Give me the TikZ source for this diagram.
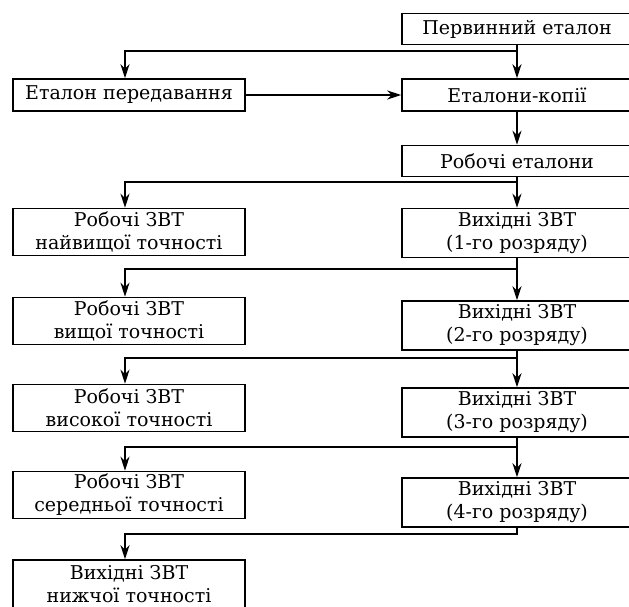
\documentclass[tikz,border=0pt]{standalone}
\usepackage{fontspec}
\setmainfont{DejaVu Serif}
\usetikzlibrary{arrows.meta,calc}
\begin{document}
\begin{tikzpicture}[x=1pt,y=-1pt,
  box/.style={draw, line width=1.5pt, inner sep=0pt, align=center, font=\fontsize{19}{23}\selectfont},
  lbox/.style={box, minimum width=232pt},
  rbox/.style={box, minimum width=230pt},
  one/.style={minimum height=31pt},
  ltwo/.style={minimum height=47pt},
  rtwo/.style={minimum height=49pt},
  arw/.style={line width=1.4pt, -{Stealth[length=14pt,width=9pt,inset=4.5pt]}}]
\useasboundingbox (0,0) rectangle (629,606);
\clip (0,0) rectangle (629,606);
\node[rbox, one] (p) at (517,29) {Первинний еталон};
\node[lbox, one, minimum height=32pt] (t) at (129,95) {Еталон передавання};
\node[rbox, one, minimum height=32pt] (k) at (517,95) {Еталони-копії};
\node[rbox, one] (re) at (517,161) {Робочі еталони};
\node[lbox, ltwo] (l1) at (129,232) {Робочі ЗВТ\\найвищої точності};
\node[rbox, rtwo] (r1) at (517,233) {Вихідні ЗВТ\\(1-го розряду)};
\node[lbox, ltwo] (l2) at (129,321) {Робочі ЗВТ\\вищої точності};
\node[rbox, rtwo] (r2) at (517,325.5) {Вихідні ЗВТ\\(2-го розряду)};
\node[lbox, ltwo] (l3) at (129,408) {Робочі ЗВТ\\високої точності};
\node[rbox, rtwo] (r3) at (517,412.5) {Вихідні ЗВТ\\(3-го розряду)};
\node[lbox, ltwo] (l4) at (129,495) {Робочі ЗВТ\\середньої точності};
\node[rbox, rtwo] (r4) at (517,502.5) {Вихідні ЗВТ\\(4-го розряду)};
\node[lbox, minimum height=48pt] (n) at (129,584) {Вихідні ЗВТ\\нижчої точності};
\coordinate (j0) at (517,51);
\coordinate (j1) at (517,182);
\coordinate (j2) at (517,269);
\coordinate (j3) at (517,358);
\coordinate (j4) at (517,447);
\coordinate (j5) at (517,534);
\draw[arw] (p.south) -- (k.north);
\draw[arw] (j0) -| ([xshift=-4pt]t.north);
\draw[arw] (t.east) -- (k.west);
\draw[arw] (k.south) -- (re.north);
\draw[arw] (re.south) -- (r1.north);
\draw[arw] (j1) -| ([xshift=-4pt]l1.north);
\draw[arw] (r1.south) -- (r2.north);
\draw[arw] (j2) -| ([xshift=-4pt]l2.north);
\draw[arw] (r2.south) -- (r3.north);
\draw[arw] (j3) -| ([xshift=-4pt]l3.north);
\draw[arw] (r3.south) -- (r4.north);
\draw[arw] (j4) -| ([xshift=-4pt]l4.north);
\draw[arw] (r4.south) -- (j5) -| ([xshift=-4pt]n.north);
\end{tikzpicture}
\end{document}
